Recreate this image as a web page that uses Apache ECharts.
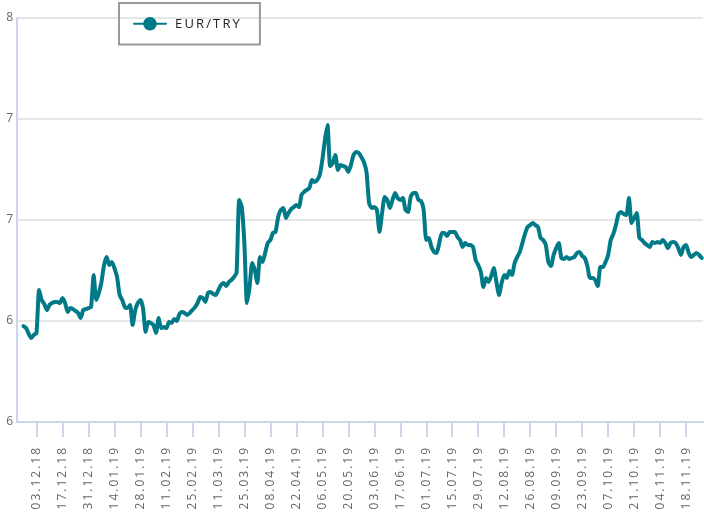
<!DOCTYPE html>
<html>
<head>
<meta charset="utf-8">
<script src="https://cdn.jsdelivr.net/npm/echarts@6/dist/echarts.min.js"></script>
<style>html,body{margin:0;padding:0;background:#fff}#c{width:704px;height:520px}</style>
</head>
<body>
<div id="c"></div>
<script>
// Business-day categories starting 22.11.18 (264 days)
const startDate = new Date(2018, 10, 22);
const categoryCount = 264;
const categories = [];
(function () {
  const d = new Date(startDate);
  while (categories.length < categoryCount) {
    const wd = d.getDay();
    if (wd !== 0 && wd !== 6) {
      const dd = String(d.getDate()).padStart(2, '0');
      const mm = String(d.getMonth() + 1).padStart(2, '0');
      const yy = String(d.getFullYear()).slice(2);
      categories.push(dd + '.' + mm + '.' + yy);
    }
    d.setDate(d.getDate() + 1);
  }
})();

const seriesName = 'EUR/TRY';
const eurTry = [
  null, null, 5.975, 5.965, 5.936, 5.916, 5.931, 5.941, 6.153, 6.104,
  6.084, 6.054, 6.079, 6.089, 6.094, 6.094, 6.089, 6.114, 6.089, 6.045,
  6.064, 6.059, 6.050, 6.040, 6.015, 6.054, 6.059, 6.064, 6.069, 6.228,
  6.104, 6.139, 6.193, 6.277, 6.317, 6.277, 6.292, 6.262, 6.218, 6.129,
  6.104, 6.069, 6.064, 6.079, 5.980, 6.054, 6.089, 6.104, 6.064, 5.946,
  5.995, 5.990, 5.980, 5.941, 6.015, 5.965, 5.970, 5.965, 5.995, 5.990,
  6.010, 6.000, 6.035, 6.045, 6.040, 6.030, 6.040, 6.054, 6.069, 6.089,
  6.119, 6.114, 6.094, 6.139, 6.144, 6.134, 6.129, 6.153, 6.178, 6.188,
  6.173, 6.193, 6.203, 6.218, 6.238, 6.599, 6.564, 6.386, 6.089, 6.168,
  6.287, 6.252, 6.188, 6.317, 6.292, 6.337, 6.386, 6.401, 6.436, 6.441,
  6.515, 6.550, 6.559, 6.510, 6.535, 6.554, 6.564, 6.574, 6.564, 6.624,
  6.639, 6.649, 6.658, 6.698, 6.688, 6.698, 6.723, 6.797, 6.896, 6.970,
  6.767, 6.782, 6.822, 6.748, 6.772, 6.767, 6.762, 6.738, 6.772, 6.822,
  6.837, 6.832, 6.812, 6.787, 6.738, 6.584, 6.559, 6.564, 6.550, 6.441,
  6.535, 6.614, 6.599, 6.559, 6.599, 6.634, 6.609, 6.599, 6.609, 6.550,
  6.540, 6.614, 6.634, 6.634, 6.599, 6.594, 6.550, 6.401, 6.411, 6.366,
  6.342, 6.337, 6.386, 6.436, 6.436, 6.421, 6.441, 6.441, 6.441, 6.416,
  6.401, 6.366, 6.386, 6.376, 6.376, 6.366, 6.302, 6.277, 6.243, 6.168,
  6.213, 6.193, 6.223, 6.262, 6.193, 6.129, 6.188, 6.228, 6.213, 6.248,
  6.228, 6.287, 6.317, 6.342, 6.386, 6.431, 6.465, 6.475, 6.485, 6.475,
  6.465, 6.411, 6.401, 6.376, 6.292, 6.272, 6.327, 6.361, 6.386, 6.312,
  6.307, 6.317, 6.307, 6.312, 6.317, 6.337, 6.342, 6.322, 6.312, 6.272,
  6.213, 6.213, 6.203, 6.173, 6.267, 6.267, 6.292, 6.327, 6.401, 6.431,
  6.475, 6.530, 6.540, 6.530, 6.525, 6.609, 6.485, 6.510, 6.535, 6.411,
  6.401, 6.386, 6.376, 6.366, 6.391, 6.386, 6.391, 6.386, 6.401, 6.386,
  6.361, 6.386, 6.391, 6.386, 6.361, 6.327, 6.366, 6.376, 6.337, 6.317,
  6.327, 6.337, 6.327, 6.312
];

const yMin = 5.5, yMax = 7.5, yStep = 0.5;
const firstLabelIndex = 7, labelEvery = 10;

const spaced = s => String(s).split('').join('\u2009');
const showTick = (i) => i >= firstLabelIndex && (i - firstLabelIndex) % labelEvery === 0;

const chart = echarts.init(document.getElementById('c'), null, {renderer: 'canvas'});
chart.setOption({
  animation: false,
  backgroundColor: '#ffffff',
  textStyle: {fontFamily: 'Open Sans, DejaVu Sans, sans-serif'},
  grid: {left: 17, right: 1, top: 18, bottom: 98, containLabel: false},
  legend: {
    left: 119, top: 3,
    padding: [14, 20, 14, 14],
    borderColor: '#999999', borderWidth: 2,
    itemWidth: 32, itemHeight: 17,
    formatter: spaced,
    textStyle: {fontSize: 13, color: '#222222', fontFamily: 'Open Sans, DejaVu Sans, sans-serif', padding: [0, 0, 0, 4]},
    data: [seriesName]
  },
  xAxis: {
    type: 'category',
    data: categories,
    boundaryGap: true,
    axisLine: {show: true, lineStyle: {color: '#ccd6eb', width: 2}},
    axisTick: {show: true, alignWithLabel: true, length: 15, interval: showTick, lineStyle: {color: '#ccd6eb', width: 2}},
    axisLabel: {
      interval: showTick,
      rotate: 90,
      margin: 26,
      color: '#666666',
      fontSize: 12,
      formatter: spaced
    },
    splitLine: {show: false}
  },
  yAxis: {
    type: 'value',
    min: yMin, max: yMax, interval: yStep,
    axisLine: {show: true, lineStyle: {color: '#ccd6eb', width: 2}},
    axisTick: {show: false},
    axisLabel: {
      margin: 4,
      color: '#666666',
      fontSize: 12,
      formatter: v => v.toFixed(0)
    },
    splitLine: {show: true, lineStyle: {color: '#e6e6e6', width: 2}}
  },
  series: [{
    name: seriesName,
    type: 'line',
    data: eurTry,
    symbol: 'circle',
    symbolSize: 17,
    showSymbol: false,
    smooth: 0.2,
    connectNulls: false,
    itemStyle: {color: '#007a87'},
    lineStyle: {color: '#007a87', width: 4, cap: 'round', join: 'round'}
  }]
});
</script>
</body>
</html>
